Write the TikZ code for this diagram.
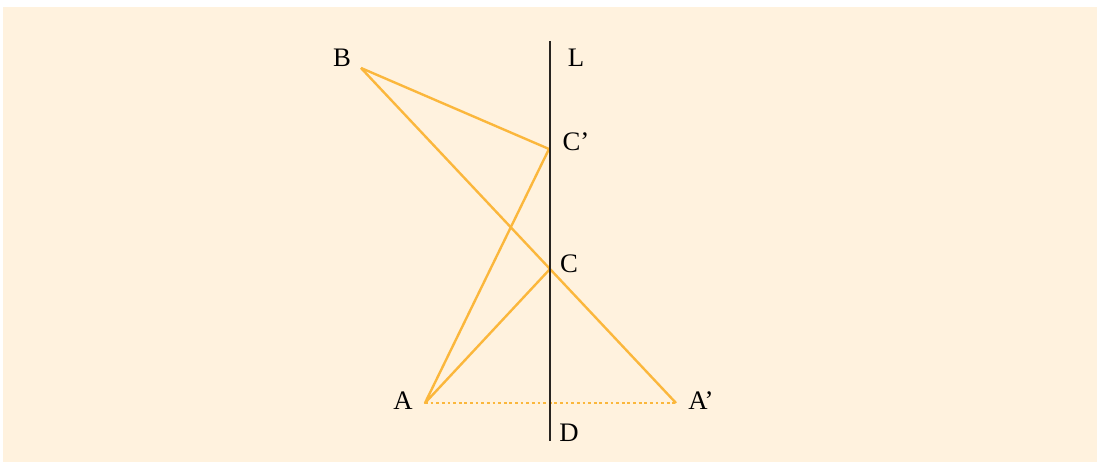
\documentclass[tikz,border=0pt]{standalone}
\usepackage{fontspec}
\setmainfont{Liberation Serif}
\usepackage{tikz}
\usetikzlibrary{positioning}
\definecolor{bgcol}{RGB}{255,242,222}
\definecolor{raycol}{RGB}{251,183,60}
\definecolor{mirrorcol}{RGB}{40,36,32}

\begin{document}
\begin{tikzpicture}[
  x=0.025cm, y=-0.025cm,
  lbl/.style={font=\fontsize{19}{22}\selectfont, inner sep=0pt},
  ray/.style={raycol, line width=1.7pt, line join=round},
  mirror/.style={mirrorcol, line width=1.9pt},
]
\useasboundingbox (0,0) rectangle (1099,464);
\fill[bgcol] (3,7) rectangle (1097,462);
% points
\coordinate (B) at (361,68);
\coordinate (Cp) at (549,149);
\coordinate (C) at (550,269);
\coordinate (A) at (425,403);
\coordinate (Ap) at (676,403);
\coordinate (Ltop) at (550,41);
\coordinate (Dbot) at (550,441);
% rays
\draw[ray] (B) -- (Ap);
\draw[ray] (B) -- (Cp) -- (A) -- (C);
\draw[ray, dash pattern=on 2pt off 2pt] (A) -- (Ap);
% mirror
\draw[mirror] (Ltop) -- (Dbot);
% labels
\node[lbl] (lB) at (342,58) {B};
\node[lbl] (lL) at (576,58) {L};
\node[lbl] (lCp) at (576,142) {C'};
\node[lbl] (lC) at (569,264) {C};
\node[lbl] (lA) at (403,401) {A};
\node[lbl] (lAp) at (701,401) {A'};
\node[lbl] (lD) at (569,433) {D};
\end{tikzpicture}
\end{document}
